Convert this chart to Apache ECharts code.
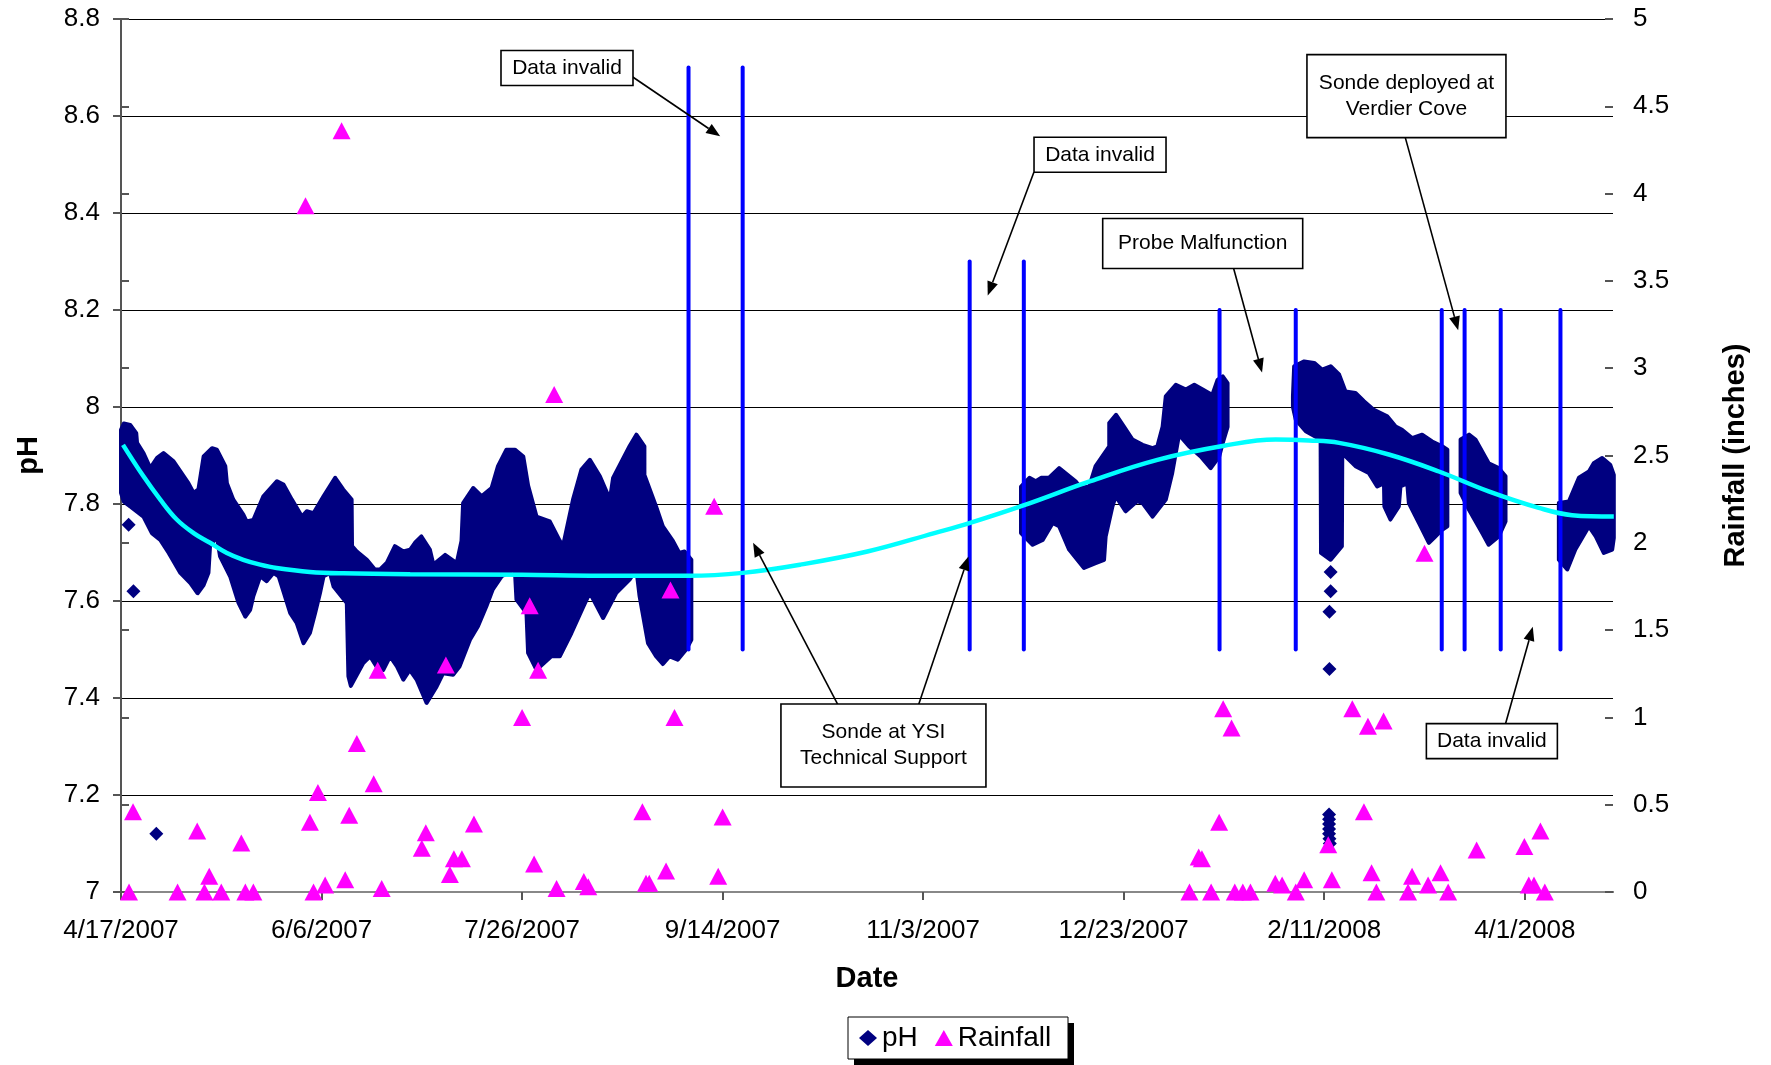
<!DOCTYPE html>
<html><head><meta charset="utf-8">
<script src="https://cdn.jsdelivr.net/npm/echarts/dist/echarts.min.js"></script>
<style>html,body{margin:0;padding:0;background:#fff}#c{width:1771px;height:1065px}</style>
</head><body><div id="c"></div>
<script>
// x values are days since 4/17/2007
const xTickLabels = ['4/17/2007','6/6/2007','7/26/2007','9/14/2007','11/3/2007','12/23/2007','2/11/2008','4/1/2008'];

// pH record envelope (continuous 15-min data forms a dense band): upper & lower edges per deployment
const upper1 = [[0,7.953],[0.7,7.966],[2.3,7.963],[3.8,7.946],[4.0,7.926],[5.6,7.905],[7.3,7.874],[9.0,7.895],[10.6,7.905],[13.1,7.888],[16.8,7.843],[18.1,7.823],[19.3,7.830],[20.6,7.898],[22.7,7.915],[23.9,7.912],[26.0,7.878],[26.4,7.843],[28.0,7.809],[30.5,7.778],[31.3,7.764],[33.0,7.767],[35.5,7.816],[38.9,7.847],[40.5,7.840],[42.6,7.809],[45.1,7.774],[46.3,7.785],[48.0,7.781],[50.5,7.816],[53.4,7.854],[55.4,7.830],[57.5,7.809],[57.6,7.713],[58.8,7.702],[61.3,7.685],[63.3,7.665],[64.6,7.665],[66.3,7.679],[68.3,7.713],[70.4,7.702],[72.1,7.706],[73.3,7.720],[74.9,7.733],[77.0,7.706],[77.9,7.675],[80.8,7.695],[83.7,7.678],[84.9,7.724],[85.3,7.802],[87.8,7.833],[89.9,7.816],[92.4,7.833],[94.0,7.878],[96.1,7.912],[98.2,7.912],[100.3,7.898],[101.5,7.838],[103.6,7.774],[106.9,7.764],[109.4,7.724],[110.2,7.713],[112.7,7.809],[114.8,7.871],[116.9,7.891],[119.4,7.857],[121.9,7.809],[122.7,7.854],[126.8,7.919],[128.5,7.943],[130.5,7.919],[130.5,7.860],[133.4,7.795],[135.1,7.754],[137.6,7.724],[139.2,7.699],[140.5,7.702],[142.2,7.685]];
const lower1 = [[0,7.823],[0.7,7.805],[2.3,7.795],[5.6,7.774],[7.7,7.740],[9.8,7.726],[11.9,7.699],[14.8,7.658],[17.3,7.637],[19.1,7.616],[20.6,7.633],[21.8,7.658],[22.2,7.713],[23.9,7.733],[24.7,7.692],[27.2,7.651],[29.3,7.596],[31.0,7.568],[32.2,7.582],[33.0,7.610],[34.7,7.651],[36.3,7.641],[38.0,7.658],[39.3,7.651],[40.5,7.620],[42.2,7.575],[43.8,7.555],[45.5,7.513],[47.1,7.534],[48.4,7.575],[49.6,7.616],[50.5,7.651],[52.1,7.658],[53.0,7.630],[56.3,7.596],[56.7,7.445],[57.3,7.425],[60.4,7.472],[62.1,7.486],[63.7,7.465],[65.4,7.458],[67.1,7.486],[68.8,7.465],[70.4,7.438],[72.0,7.458],[73.7,7.438],[76.2,7.390],[78.7,7.424],[80.3,7.451],[82.8,7.448],[84.4,7.465],[87.0,7.520],[89.0,7.548],[91.1,7.589],[92.7,7.624],[94.9,7.651],[98.2,7.665],[98.6,7.603],[101.1,7.575],[101.5,7.493],[103.6,7.458],[107.3,7.486],[109.4,7.486],[112.3,7.534],[115.3,7.589],[116.9,7.617],[120.2,7.565],[123.5,7.617],[126.8,7.644],[128.5,7.665],[129.3,7.610],[131.4,7.513],[133.4,7.486],[135.1,7.470],[136.8,7.486],[138.8,7.479],[140.9,7.500],[142.2,7.520]];
const upper2 = [[224.4,7.836],[226.5,7.854],[228.1,7.847],[229.4,7.854],[231.4,7.854],[233.9,7.874],[238.0,7.847],[239.3,7.833],[241.4,7.836],[243.0,7.878],[246.4,7.919],[246.4,7.967],[248.1,7.984],[250.1,7.959],[252.2,7.933],[254.7,7.922],[257.2,7.915],[258.4,7.919],[259.7,7.959],[260.5,8.022],[263.0,8.046],[265.5,8.036],[267.6,8.046],[269.7,8.036],[272.1,8.025],[273.4,8.056],[274.7,8.063],[275.9,8.049]];
const lower2 = [[224.4,7.740],[227.3,7.716],[229.8,7.726],[232.3,7.761],[233.9,7.754],[236.4,7.706],[240.1,7.668],[243.0,7.678],[245.1,7.685],[245.5,7.733],[247.2,7.795],[248.0,7.816],[250.5,7.785],[253.4,7.806],[254.7,7.802],[257.2,7.774],[260.5,7.809],[262.1,7.864],[263.8,7.943],[266.3,7.919],[269.2,7.898],[271.7,7.874],[273.8,7.898],[274.7,7.926],[275.9,7.959]];
const upper3 = [[292.2,8.022],[292.5,8.084],[295.0,8.094],[297.5,8.091],[299.5,8.077],[301.6,8.084],[303.7,8.067],[305.3,8.032],[307.8,8.029],[309.9,8.012],[312.4,7.994],[315.7,7.981],[317.8,7.960],[319.4,7.953],[321.9,7.936],[324.4,7.943],[326.9,7.929],[329.4,7.919],[330.7,7.912]];
const lower3 = [[292.2,8.000],[292.9,7.974],[295.4,7.950],[299.1,7.933],[299.2,7.699],[301.6,7.685],[304.4,7.713],[304.5,7.905],[307.8,7.878],[311.1,7.864],[313.2,7.836],[314.9,7.843],[315.0,7.795],[316.5,7.768],[318.6,7.795],[319.0,7.836],[320.7,7.843],[321.1,7.802],[323.6,7.761],[326.1,7.720],[327.7,7.733],[329.4,7.747],[330.7,7.754]];
const upper4 = [[334.0,7.933],[336.1,7.943],[337.7,7.933],[341.0,7.884],[343.5,7.874],[345.2,7.857]];
const lower4 = [[334.0,7.823],[336.1,7.788],[339.4,7.740],[341.0,7.716],[343.5,7.733],[345.2,7.764]];
const upper5 = [[358.5,7.802],[361.0,7.805],[363.5,7.854],[366.0,7.867],[367.2,7.884],[369.3,7.895],[371.3,7.881],[372.2,7.860]];
const lower5 = [[358.5,7.685],[360.6,7.665],[362.6,7.706],[366.0,7.754],[367.7,7.733],[369.7,7.699],[371.8,7.706],[372.2,7.730]];

// isolated pH readings
const phOutlierDay = [1.9, 3.1, 8.8, 301.6, 301.6, 301.3, 301.3, 301.2, 301.2, 301.2, 301.2, 301.2, 301.3, 301.4];
const phOutlierVal = [7.757, 7.620, 7.120, 7.660, 7.620, 7.578, 7.460, 7.160, 7.150, 7.140, 7.130, 7.120, 7.110, 7.100];

// daily rainfall (inches)
const rainDay = [2.0,3.0,14.1,19.0,20.8,22.0,25.0,30.0,31.0,33.0,46.0,47.1,48.0,49.1,50.9,55.0,55.9,56.9,58.8,63.0,64.0,65.0,75.0,76.0,81.0,82.0,83.0,85.0,88.0,100.0,101.9,103.0,104.0,108.0,108.6,115.4,116.5,130.0,130.9,131.7,135.9,137.0,138.0,147.9,148.9,150.0,266.4,268.7,269.5,271.8,273.8,274.8,276.9,277.7,279.7,281.6,287.8,289.5,292.9,295.0,301.0,301.9,307.0,309.9,310.9,311.8,313.0,314.8,320.9,321.9,325.0,325.9,329.0,330.9,338.0,349.9,351.0,352.3,353.9,355.0];
const rainInches = [0,0.46,0,0.35,0,0.09,0,0.28,0,0,3.93,0.40,0,0.57,0.04,4.36,0.07,0.44,0.85,0.62,1.27,0.02,0.25,0.34,1.30,0.10,0.19,0.19,0.39,1.00,1.64,0.16,1.27,2.85,0.02,0.06,0.03,0.46,0.05,0.05,0.12,1.73,1.00,2.21,0.09,0.43,0,0.20,0.19,0,0.40,1.05,0.94,0,0,0,0.05,0.04,0,0.07,0.27,0.07,1.05,0.46,0.95,0.11,0,0.98,0,0.09,1.94,0.04,0.11,0,0.24,0.26,0.04,0.04,0.35,0];

// polynomial trendline of pH
const trendDay = [0.5,5.6,9.8,13.9,18.1,22.2,26.4,30.5,34.7,38.8,47.1,55.4,72.1,100,119.4,141.6,155,169.4,186.1,202.8,211.7,225,241.7,258.4,275,287.9,296.2,303.7,316.1,328.6,341,353.5,361.8,372.2];
const trendPH = [7.922,7.857,7.809,7.768,7.740,7.720,7.699,7.685,7.675,7.668,7.660,7.657,7.655,7.654,7.652,7.652,7.658,7.675,7.702,7.740,7.761,7.797,7.847,7.891,7.920,7.933,7.931,7.926,7.902,7.867,7.826,7.792,7.777,7.774];

// "data invalid" period markers
const markerDay = [141.5,155.0,211.6,225.1,273.9,292.9,329.3,335.0,344.0,358.9];
const markerTop = [8.7,8.7,8.3,8.3,8.2,8.2,8.2,8.2,8.2,8.2];
const markerBottom = [7.5,7.5,7.5,7.5,7.5,7.5,7.5,7.5,7.5,7.5];

const bandSegments = [[upper1,lower1],[upper2,lower2],[upper3,lower3],[upper4,lower4],[upper5,lower5]];

const FONT = '"Liberation Sans", Arial, Helvetica, sans-serif';
const chart = echarts.init(document.getElementById('c'), null, {renderer:'canvas'});

const option = {
  animation: false,
  backgroundColor: '#fff',
  textStyle: {fontFamily: FONT, color: '#000'},
  grid: {left: 121, right: 158, top: 19, bottom: 173, containLabel: false},
  graphic: [],
  legend: {
    data: [{name:'pH', icon:'diamond'}, {name:'Rainfall', icon:'triangle'}],
    left: 848, top: 1018, z: 20,
    itemWidth: 18, itemHeight: 16, itemGap: 17,
    padding: [6, 11, 6, 11],
    textStyle: {fontSize: 28, fontFamily: FONT, color: '#000'},
    selectedMode: false
  },
  xAxis: [{
    type: 'value', min: 0, max: 372, interval: 50,
    name: 'Date', nameLocation: 'middle', nameGap: 72,
    nameTextStyle: {fontSize: 29, fontWeight: 'bold', fontFamily: FONT, color: '#000'},
    axisLine: {show: true, onZero: false, lineStyle: {color: '#555', width: 2}},
    axisTick: {show: true, length: 8, lineStyle: {color: '#555', width: 2}},
    axisLabel: {fontSize: 26, color: '#000', margin: 26, fontFamily: FONT,
      formatter: v => xTickLabels[Math.round(v / 50)] || ''},
    splitLine: {show: false}
  }, {
    type: 'value', position: 'top', min: 0, max: 372,
    axisLine: {show: true, lineStyle: {color: '#888', width: 2}},
    axisTick: {show: false}, axisLabel: {show: false}, splitLine: {show: false}
  }],
  yAxis: [{
    type: 'value', min: 7, max: 8.8, interval: 0.2, position: 'left',
    name: 'pH', nameLocation: 'middle', nameGap: 78, nameRotate: 90,
    nameTextStyle: {fontSize: 29, fontWeight: 'bold', fontFamily: FONT, color: '#000'},
    axisLine: {show: true, lineStyle: {color: '#555', width: 2}},
    axisTick: {show: true, length: 8, lineStyle: {color: '#555', width: 2}},
    axisLabel: {fontSize: 26, color: '#000', margin: 21, fontFamily: FONT},
    splitLine: {show: true, lineStyle: {color: '#000', width: 1}}
  }, {
    type: 'value', min: 0, max: 5, interval: 0.5, position: 'right',
    name: 'Rainfall (inches)', nameLocation: 'middle', nameGap: 108, nameRotate: 90,
    nameTextStyle: {fontSize: 29, fontWeight: 'bold', fontFamily: FONT, color: '#000'},
    axisLine: {show: true, lineStyle: {color: '#555', width: 2}},
    axisTick: {show: true, length: 8, lineStyle: {color: '#555', width: 2}},
    axisLabel: {fontSize: 26, color: '#000', margin: 20, fontFamily: FONT},
    splitLine: {show: false}
  }, {
    type: 'value', min: 0, max: 5, interval: 0.5, position: 'right',
    axisLine: {show: false},
    axisTick: {show: true, inside: true, length: 8, lineStyle: {color: '#555', width: 2}},
    axisLabel: {show: false}, splitLine: {show: false}
  }],
  series: [
    {
      type: 'custom', name: 'pH', xAxisIndex: 0, yAxisIndex: 0, z: 2, clip: false,
      itemStyle: {color: '#000080'},
      encode: {x: 0, y: 1},
      data: bandSegments.map(s => [s[0][0][0], s[0][0][1]]),
      renderItem: (params, api) => {
        const seg = bandSegments[params.dataIndex];
        const pts = seg[0].map(p => api.coord(p)).concat(seg[1].slice().reverse().map(p => api.coord(p)));
        return {type: 'polygon', shape: {points: pts},
          style: {fill: '#000080', stroke: '#000080', lineWidth: 4, lineJoin: 'round'}};
      }
    },
    {
      type: 'scatter', name: 'pH', xAxisIndex: 0, yAxisIndex: 0, z: 3,
      symbol: 'diamond', symbolSize: 14,
      itemStyle: {color: '#000080', opacity: 1},
      data: phOutlierDay.map((d, i) => [d, phOutlierVal[i]])
    },
    {
      type: 'custom', name: 'markers', xAxisIndex: 0, yAxisIndex: 0, z: 4, clip: false,
      encode: {x: 0, y: 1},
      data: markerDay.map((d, i) => [d, markerTop[i], markerBottom[i]]),
      renderItem: (params, api) => {
        const a = api.coord([api.value(0), api.value(1)]);
        const b = api.coord([api.value(0), api.value(2)]);
        return {type: 'line', shape: {x1: a[0], y1: a[1], x2: b[0], y2: b[1]},
          style: {stroke: '#0000FF', lineWidth: 4, lineCap: 'round'}};
      }
    },
    {
      type: 'line', name: 'trend', xAxisIndex: 0, yAxisIndex: 0, z: 5,
      smooth: 0.4, showSymbol: false, symbol: 'none',
      lineStyle: {color: '#00FFFF', width: 4.5},
      data: trendDay.map((d, i) => [d, trendPH[i]])
    },
    {
      type: 'scatter', name: 'Rainfall', xAxisIndex: 0, yAxisIndex: 1, z: 6,
      symbol: 'triangle', symbolSize: [18, 17],
      itemStyle: {color: '#FF00FF', opacity: 1},
      data: rainDay.map((d, i) => [d, rainInches[i]])
    }
  ]
};
chart.setOption(option);

// annotations anchored in data space (day, pH)
const annotations = [
  {lines: ['Data invalid'], at: [111.2, 8.699], w: 132, h: 35},
  {lines: ['Data invalid'], at: [244.1, 8.520], w: 132, h: 35},
  {lines: ['Probe Malfunction'], at: [269.7, 8.337], w: 200, h: 50},
  {lines: ['Sonde deployed at', 'Verdier Cove'], at: [320.5, 8.641], w: 199, h: 83},
  {lines: ['Sonde at YSI', 'Technical Support'], at: [190.1, 7.302], w: 205, h: 83},
  {lines: ['Data invalid'], at: [341.8, 7.311], w: 131, h: 35}
];
const arrows = [
  {from: [127.5, 8.681], to: [149.4, 8.558]},
  {from: [227.6, 8.484], to: [216.1, 8.230]},
  {from: [277.4, 8.286], to: [284.5, 8.071]},
  {from: [320.2, 8.556], to: [333.4, 8.158]},
  {from: [178.7, 7.387], to: [157.6, 7.720]},
  {from: [198.9, 7.387], to: [211.3, 7.692]},
  {from: [345.2, 7.347], to: [352.0, 7.547]}
];
const px = p => chart.convertToPixel({xAxisIndex: 0, yAxisIndex: 0}, p);
const g = [];
// legend frame with solid drop shadow
g.push({type: 'rect', z: 9, shape: {x: 854, y: 1023, width: 220, height: 42}, style: {fill: '#000'}});
g.push({type: 'rect', z: 10, shape: {x: 848, y: 1017, width: 220, height: 42},
  style: {fill: '#fff', stroke: '#000', lineWidth: 1}});
arrows.forEach(a => {
  const p1 = px(a.from), p2 = px(a.to);
  const dx = p2[0] - p1[0], dy = p2[1] - p1[1], L = Math.hypot(dx, dy);
  const ux = dx / L, uy = dy / L, hl = 14, hw = 5.5;
  const bx = p2[0] - ux * hl, by = p2[1] - uy * hl;
  g.push({type: 'line', z: 100, shape: {x1: p1[0], y1: p1[1], x2: bx, y2: by},
    style: {stroke: '#000', lineWidth: 1.6}});
  g.push({type: 'polygon', z: 100, shape: {points: [[p2[0], p2[1]], [bx - uy * hw, by + ux * hw], [bx + uy * hw, by - ux * hw]]},
    style: {fill: '#000'}});
});
annotations.forEach(a => {
  const c = px(a.at);
  g.push({type: 'rect', z: 101, shape: {x: c[0] - a.w / 2, y: c[1] - a.h / 2, width: a.w, height: a.h},
    style: {fill: '#fff', stroke: '#000', lineWidth: 1.6}});
  g.push({type: 'text', z: 102, x: c[0], y: c[1],
    style: {text: a.lines.join('\n'), font: '21px ' + FONT, fill: '#000', align: 'center', verticalAlign: 'middle', lineHeight: 26}});
});
chart.setOption({graphic: g});
</script>
</body></html>
